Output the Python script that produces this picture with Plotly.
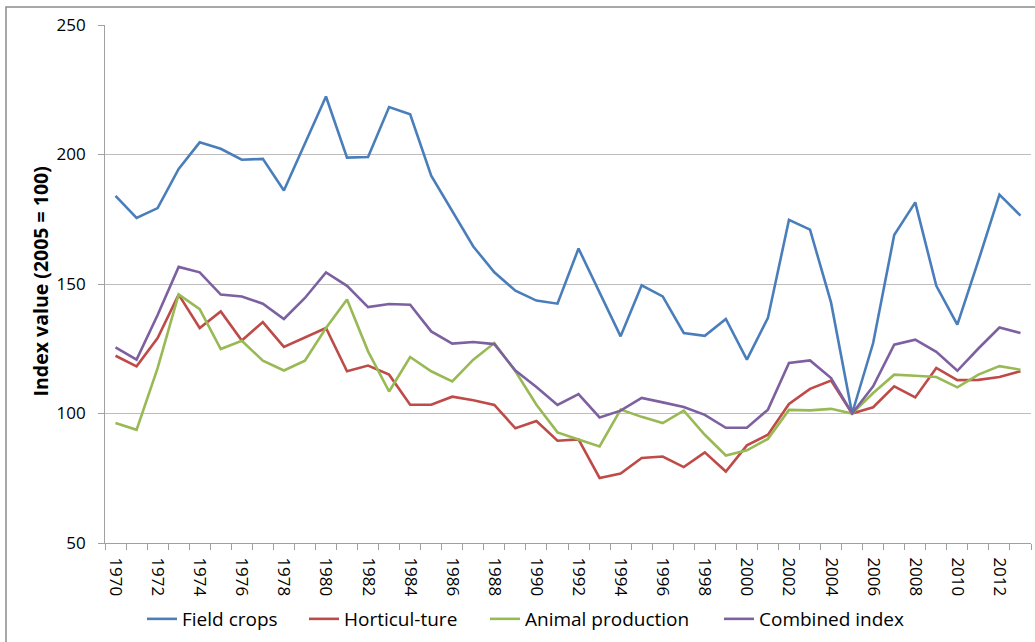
import plotly.graph_objects as go

years = list(range(1970, 2014))

field_crops = [184, 175.5, 179.3, 194.4, 204.7, 202.2, 198, 198.3, 186.1, 204.4,
               222.4, 198.8, 199, 218.3, 215.5, 191.8, 178, 164.5, 154.5, 147.4,
               143.6, 142.4, 163.7, 147, 129.8, 149.5, 145.2, 131.1, 130, 136.5,
               120.8, 136.9, 174.8, 171, 142.8, 100, 127.2, 168.9, 181.5, 149.3,
               134.3, 159, 184.5, 176.4]
horticulture = [122.3, 118.2, 129.1, 145.9, 133, 139.4, 128.2, 135.3, 125.7, 129.5,
                133, 116.3, 118.5, 115, 103.4, 103.4, 106.5, 105.1, 103.3, 94.3,
                97.1, 89.5, 90, 75.1, 76.8, 82.8, 83.4, 79.3, 85, 77.6,
                87.7, 91.8, 103.7, 109.5, 112.7, 100, 102.4, 110.5, 106.2, 117.6,
                112.9, 113, 114.1, 116.3]
animal = [96.3, 93.7, 117.5, 146, 140.3, 124.9, 128.1, 120.4, 116.6, 120.4,
          133, 144, 124, 108.5, 121.8, 116.3, 112.4, 120.8, 127.2, 116.3,
          103.4, 92.7, 90, 87.3, 101.5, 98.7, 96.3, 101.1, 91.8, 83.8,
          85.8, 90.2, 101.4, 101.2, 101.8, 100, 107.9, 115, 114.6, 114.1,
          110.1, 115, 118.3, 116.9]
combined = [125.5, 120.8, 138, 156.6, 154.5, 145.9, 145.2, 142.4, 136.5, 144.6,
            154.5, 149.3, 141.1, 142.3, 142, 131.7, 127, 127.6, 126.8, 116.6,
            110.2, 103.3, 107.5, 98.5, 101.1, 106, 104.3, 102.5, 99.5, 94.5,
            94.5, 101.5, 119.5, 120.5, 113.7, 100, 110.5, 126.6, 128.5, 123.8,
            116.5, 125.1, 133.2, 131.1]

series = [
    ("Field crops", field_crops, "#4A7EBB"),
    ("Horticul-ture", horticulture, "#BE4B48"),
    ("Animal production", animal, "#98B954"),
    ("Combined index", combined, "#7D60A0"),
]
# left edge of each legend entry (px in the 1035 wide page)
legend_left = [150, 312, 493, 727]

fig = go.Figure()
legends = {}
for i, (name, vals, col) in enumerate(series):
    key = "legend" if i == 0 else "legend%d" % (i + 1)
    fig.add_trace(go.Scatter(x=years, y=vals, name=name, mode="lines",
                             line=dict(color=col, width=2.6), legend=key))
    legends[key] = dict(xref="container", x=(legend_left[i] - 8) / 1035, xanchor="left",
                        yref="container", y=(642 - 619) / 642, yanchor="middle",
                        font=dict(size=19), itemwidth=30, bgcolor="rgba(0,0,0,0)")

label_years = years[::2]
boundaries = [y - 0.5 for y in years] + [years[-1] + 0.5]

fig.update_layout(
    width=1035, height=642,
    margin=dict(l=105, r=4, t=25, b=99, autoexpand=False),
    plot_bgcolor="white", paper_bgcolor="white",
    font=dict(family="Open Sans", size=15, color="#000000"),
    showlegend=True,
    shapes=[dict(type="rect", xref="paper", yref="paper",
                 x0=-99 / 926, x1=1.1, y0=-0.4, y1=1 + 18 / 518,
                 line=dict(color="#8c8c8c", width=1.5))],
    annotations=[dict(text="<b>Index value (2005 = 100)</b>", textangle=-90,
                      xref="paper", x=-65 / 926, xanchor="center",
                      yref="paper", y=0.505, yanchor="middle",
                      showarrow=False, font=dict(size=19.5))],
    **legends,
)
fig.update_xaxes(
    range=[1969.5, 2013.5],
    tickvals=label_years, ticktext=[str(y) for y in label_years],
    tickangle=90, ticks="", showgrid=False, ticklabelstandoff=10,
    showline=True, linecolor="#a0a0a0", linewidth=1,
    tickfont=dict(size=17),
    minor=dict(tickvals=boundaries, ticks="outside", ticklen=6,
               tickcolor="#a0a0a0", showgrid=False),
)
fig.update_yaxes(
    range=[50, 250], dtick=50, ticksuffix="\u00a0\u00a0",
    showgrid=True, gridcolor="#bdbdbd", gridwidth=1,
    showline=True, linecolor="#a0a0a0", linewidth=1,
    ticks="outside", ticklen=6, tickcolor="#a0a0a0",
    tickfont=dict(size=17),
    zeroline=False,
)

fig.write_html("out.html", config={"displayModeBar": False},
               post_script="document.body.style.margin='0';")
